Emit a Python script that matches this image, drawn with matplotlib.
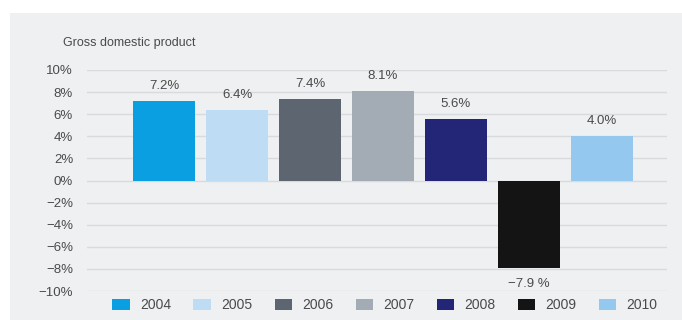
#!/usr/bin/env python3
# -*- coding: utf-8 -*-

import numpy as np
import matplotlib
matplotlib.use("Agg")
import matplotlib.pyplot as plt
from matplotlib.patches import Rectangle, Patch
from matplotlib.ticker import FuncFormatter

# Annual GDP growth, percent
years = ["2004", "2005", "2006", "2007", "2008", "2009", "2010"]
growth = [7.2, 6.4, 7.4, 8.1, 5.6, -7.9, 4.0]
value_labels = ["7.2%", "6.4%", "7.4%", "8.1%", "5.6%", "\u22127.9 %", "4.0%"]
colors = ['#0a9fe0', '#bfdcf5', '#5d6670', '#a3abb5', '#232677', '#141414', '#94c8ef']
y_ticks = [10, 8, 6, 4, 2, 0, -2, -4, -6, -8, -10]

plt.rcParams['font.family'] = ['Liberation Sans', 'DejaVu Sans']
text_color = '#4a4a4a'
panel_color = '#eff0f2'
grid_color = '#d9dadd'

fig = plt.figure(figsize=(6.82, 3.2), dpi=100)
fig.patch.set_facecolor('white')

# Light grey panel behind the chart
fig.patches.append(Rectangle((10 / 682, 0), 672 / 682, 307 / 320,
                             transform=fig.transFigure, facecolor=panel_color,
                             edgecolor='none', zorder=-5))

ax = fig.add_axes([87 / 682, 29 / 320, 580 / 682, 221 / 320])
ax.set_facecolor('none')

x = np.arange(len(years))
ax.bar(x, growth, width=0.85, color=colors, zorder=3)

for xi, val, lab in zip(x, growth, value_labels):
    if val >= 0:
        ax.annotate(lab, (xi, val), xytext=(0, 6.5), textcoords='offset points',
                    ha='center', va='bottom', fontsize=9.5, color=text_color)
    else:
        ax.annotate(lab, (xi, val), xytext=(0, -7), textcoords='offset points',
                    ha='center', va='top', fontsize=9.5, color=text_color)

ax.set_ylim(-10, 10)
ax.set_xlim(-1.055, 6.89)
ax.set_yticks(y_ticks)
ax.yaxis.set_major_formatter(FuncFormatter(lambda v, p: f"{int(v)}%".replace('-', '\u2212')))
ax.set_xticks([])
ax.tick_params(axis='y', length=0, pad=10, labelsize=9.5, labelcolor=text_color)
ax.grid(axis='y', color=grid_color, linewidth=1.0, zorder=1)
for s in ax.spines.values():
    s.set_visible(False)

fig.text(63 / 682, 1 - 43 / 320, "Gross domestic product", fontsize=9,
         color=text_color, ha='left', va='center')

handles = [Patch(facecolor=c, edgecolor='none', label=y) for c, y in zip(colors, years)]
leg = fig.legend(handles=handles, loc='center', bbox_to_anchor=(385 / 682, 15 / 320),
                 ncol=7, frameon=False, fontsize=10, handlelength=1.25,
                 handleheight=0.85, handletextpad=0.75, columnspacing=1.6,
                 borderaxespad=0, borderpad=0)
for t in leg.get_texts():
    t.set_color(text_color)

fig.savefig("out.png", dpi=100)
